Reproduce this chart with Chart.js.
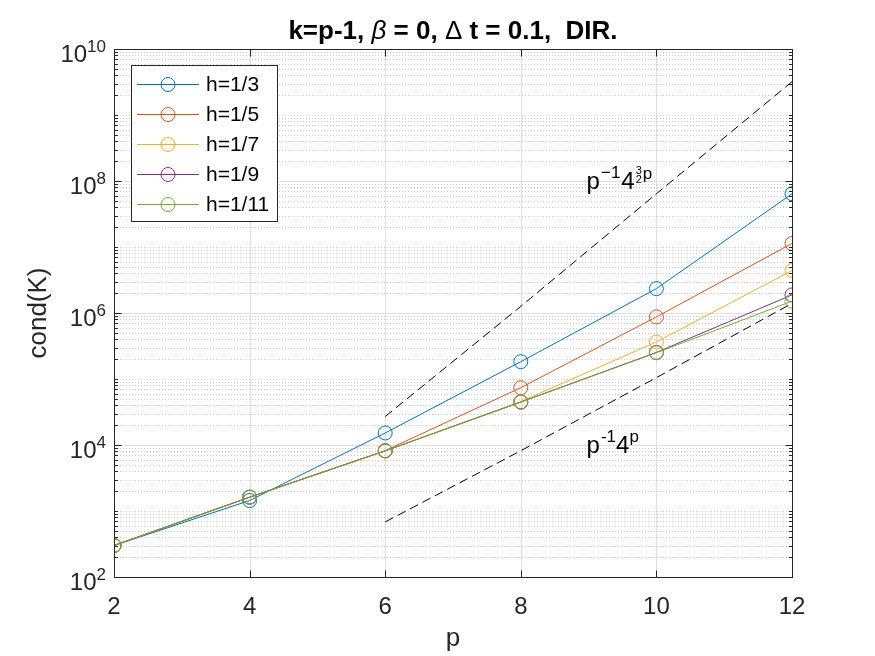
<!DOCTYPE html>
<html>
<head>
<meta charset="utf-8">
<script src="https://cdn.jsdelivr.net/npm/chart.js@4.4.1/dist/chart.umd.min.js"></script>
<style>
  body { margin: 0; background: #fff; }
  canvas { display: block; }
</style>
</head>
<body>
<canvas id="condChart" width="875" height="656"></canvas>
<script>
// polynomial degree p and the condition numbers
const pValues = [2, 4, 6, 8, 10, 12];
const seriesLabels = ['h=1/3', 'h=1/5', 'h=1/7', 'h=1/9', 'h=1/11'];
const condH3  = [300, 1440, 15200, 183000, 2340000, 64000000];
const condH5  = [300, 1620, 8200, 73800, 873000, 11300000];
const condH7  = [300, 1620, 8170, 45500, 364000, 4400000];
const condH9  = [300, 1620, 8150, 44800, 253000, 1880000];
const condH11 = [300, 1610, 8150, 44500, 250000, 1510000];
const seriesColors = ['#0072BD', '#D95319', '#EDB120', '#7E2F8E', '#77AC30'];

// reference slopes (dashed)
const guideP = [6, 8, 10, 12];
const guideUpper = [27000, 1260000, 64000000, 3200000000];
const guideLower = [683, 8192, 104858, 1398101];

const xTicks = [2, 4, 6, 8, 10, 12];
const yTickExps = [2, 4, 6, 8, 10];
const FONT = "'Liberation Sans', Arial, sans-serif";
const AXIS_COLOR = '#262626';

function toPoints(xs, ys) {
    return xs.map((x, i) => ({ x: x, y: ys[i] }));
}

const allSeries = [condH3, condH5, condH7, condH9, condH11];
const datasets = allSeries.map((vals, i) => ({
    label: seriesLabels[i],
    data: toPoints(pValues, vals),
    borderColor: seriesColors[i],
    borderWidth: 1,
    pointRadius: 7,
    pointHoverRadius: 7,
    pointBorderWidth: 1,
    pointBorderColor: seriesColors[i],
    pointBackgroundColor: 'rgba(0,0,0,0)',
    tension: 0,
    fill: false,
    order: 5 - i
}));

[guideUpper, guideLower].forEach(vals => {
    datasets.push({
        label: '',
        data: toPoints(guideP, vals),
        borderColor: '#000',
        borderWidth: 1,
        borderDash: [9, 5],
        pointRadius: 0,
        tension: 0,
        fill: false,
        order: 10
    });
});

function drawRich(ctx, x, y, parts) {
    parts.forEach(part => {
        if (part.frac) {
            ctx.font = '11px ' + FONT;
            const w = Math.max(ctx.measureText(part.frac[0]).width, ctx.measureText(part.frac[1]).width);
            ctx.textAlign = 'center';
            ctx.fillText(part.frac[0], x + w / 2, y - 15);
            ctx.fillText(part.frac[1], x + w / 2, y - 6);
            ctx.textAlign = 'left';
            x += w + 1;
            return;
        }
        ctx.font = (part.style || '') + ' ' + part.size + 'px ' + FONT;
        ctx.fillText(part.t, x, y + (part.dy || 0));
        x += ctx.measureText(part.t).width + (part.gap || 0);
    });
    return x;
}

function richWidth(ctx, parts) {
    let w = 0;
    parts.forEach(part => {
        ctx.font = (part.style || '') + ' ' + part.size + 'px ' + FONT;
        w += ctx.measureText(part.t).width + (part.gap || 0);
    });
    return w;
}

const matlabLook = {
    id: 'matlabLook',
    beforeDatasetsDraw(chart) {
        const ctx = chart.ctx;
        const area = chart.chartArea;
        const xs = chart.scales.x, ys = chart.scales.y;
        ctx.save();
        ctx.lineWidth = 1;
        // minor y grid, dotted
        ctx.strokeStyle = '#c9c9c9';
        ctx.setLineDash([1, 2]);
        for (let e = 2; e < 10; e++) {
            for (let m = 1; m <= 9; m++) {
                if (m === 1 && e % 2 === 0) continue;
                const py = Math.round(ys.getPixelForValue(m * Math.pow(10, e))) + 0.5;
                ctx.beginPath();
                ctx.moveTo(area.left, py);
                ctx.lineTo(area.right, py);
                ctx.stroke();
            }
        }
        // major grid, solid
        ctx.setLineDash([]);
        ctx.strokeStyle = '#dedede';
        yTickExps.forEach(e => {
            const py = Math.round(ys.getPixelForValue(Math.pow(10, e))) + 0.5;
            ctx.beginPath();
            ctx.moveTo(area.left, py);
            ctx.lineTo(area.right, py);
            ctx.stroke();
        });
        xTicks.forEach(t => {
            const px = Math.round(xs.getPixelForValue(t)) + 0.5;
            ctx.beginPath();
            ctx.moveTo(px, area.top);
            ctx.lineTo(px, area.bottom);
            ctx.stroke();
        });
        ctx.restore();
    },
    afterDatasetsDraw(chart) {
        const ctx = chart.ctx;
        const area = chart.chartArea;
        const xs = chart.scales.x, ys = chart.scales.y;
        const L = Math.round(area.left) + 0.5, R = Math.round(area.right) + 0.5;
        const T = Math.round(area.top) + 0.5, B = Math.round(area.bottom) + 0.5;
        ctx.save();
        ctx.setLineDash([]);
        ctx.strokeStyle = AXIS_COLOR;
        ctx.lineWidth = 1;
        ctx.strokeRect(L, T, R - L, B - T);

        // tick marks
        ctx.beginPath();
        xTicks.forEach(t => {
            const px = Math.round(xs.getPixelForValue(t)) + 0.5;
            ctx.moveTo(px, B); ctx.lineTo(px, B - 7);
            ctx.moveTo(px, T); ctx.lineTo(px, T + 7);
        });
        for (let e = 2; e <= 10; e++) {
            for (let m = 1; m <= 9; m++) {
                if (e === 10 && m > 1) break;
                const py = Math.round(ys.getPixelForValue(m * Math.pow(10, e))) + 0.5;
                const len = (m === 1 && e % 2 === 0) ? 7 : 3.5;
                ctx.moveTo(L, py); ctx.lineTo(L + len, py);
                ctx.moveTo(R, py); ctx.lineTo(R - len, py);
            }
        }
        ctx.stroke();

        // tick labels
        ctx.fillStyle = AXIS_COLOR;
        ctx.textBaseline = 'alphabetic';
        ctx.textAlign = 'center';
        ctx.font = '24px ' + FONT;
        xTicks.forEach(t => {
            ctx.fillText(String(t), xs.getPixelForValue(t), 614);
        });
        ctx.textAlign = 'left';
        yTickExps.forEach(e => {
            const py = ys.getPixelForValue(Math.pow(10, e));
            const parts = [
                { t: '10', size: 24 },
                { t: String(e), size: 17, dy: -10 }
            ];
            const w = richWidth(ctx, parts);
            drawRich(ctx, 106 - w, py + 13, parts);
        });

        // axis titles
        ctx.font = '26px ' + FONT;
        ctx.textAlign = 'center';
        ctx.fillText('p', (area.left + area.right) / 2, 646);
        ctx.save();
        ctx.translate(46, (area.top + area.bottom) / 2);
        ctx.rotate(-Math.PI / 2);
        ctx.fillText('cond(K)', 0, 0);
        ctx.restore();

        // title
        ctx.fillStyle = '#000';
        ctx.textAlign = 'left';
        const titleParts = [
            { t: 'k=p-1, ', size: 26, style: 'bold' },
            { t: '\u03B2', size: 26, style: 'italic' },
            { t: ' = 0, ', size: 26, style: 'bold' },
            { t: '\u0394', size: 26 },
            { t: ' t = 0.1,  DIR.', size: 26, style: 'bold' }
        ];
        const tw = richWidth(ctx, titleParts);
        drawRich(ctx, (area.left + area.right) / 2 - tw / 2, 39, titleParts);

        // slope annotations
        const ax = xs.getPixelForValue(9) - 2;
        drawRich(ctx, ax, ys.getPixelForValue(1e8) + 8, [
            { t: 'p', size: 24, gap: 1 },
            { t: '\u22121', size: 17, dy: -11, gap: 1 },
            { t: '4', size: 24, gap: 1 },
            { frac: ['3', '2'] },
            { t: 'p', size: 17, dy: -10 }
        ]);
        drawRich(ctx, ax, ys.getPixelForValue(1e4) + 8, [
            { t: 'p', size: 24, gap: 1 },
            { t: '-1', size: 17, dy: -11 },
            { t: '4', size: 24 },
            { t: 'p', size: 17, dy: -11 }
        ]);

        // legend
        const lx = 131.5, ly = 65.5, lw = 146, lh = 156;
        ctx.fillStyle = '#fff';
        ctx.fillRect(lx, ly, lw, lh);
        ctx.strokeStyle = AXIS_COLOR;
        ctx.strokeRect(lx, ly, lw, lh);
        ctx.font = '21px ' + FONT;
        ctx.textBaseline = 'middle';
        seriesLabels.forEach((label, i) => {
            const y = Math.round(84 + i * 30) + 0.5;
            ctx.strokeStyle = seriesColors[i];
            ctx.beginPath();
            ctx.moveTo(137, y); ctx.lineTo(199, y);
            ctx.stroke();
            ctx.beginPath();
            ctx.arc(168, y, 7, 0, Math.PI * 2);
            ctx.stroke();
            ctx.fillStyle = '#000';
            ctx.fillText(label, 206, y + 1);
        });
        ctx.restore();
    }
};

new Chart(document.getElementById('condChart').getContext('2d'), {
    type: 'line',
    data: { datasets: datasets },
    options: {
        responsive: false,
        devicePixelRatio: 1,
        animation: false,
        events: [],
        layout: { padding: { left: 114, right: 83, top: 49, bottom: 79 } },
        scales: {
            x: { type: 'linear', min: 2, max: 12, display: false },
            y: { type: 'logarithmic', min: 100, max: 1e10, display: false }
        },
        plugins: {
            legend: { display: false },
            tooltip: { enabled: false },
            title: { display: false }
        }
    },
    plugins: [matlabLook]
});
</script>
</body>
</html>
